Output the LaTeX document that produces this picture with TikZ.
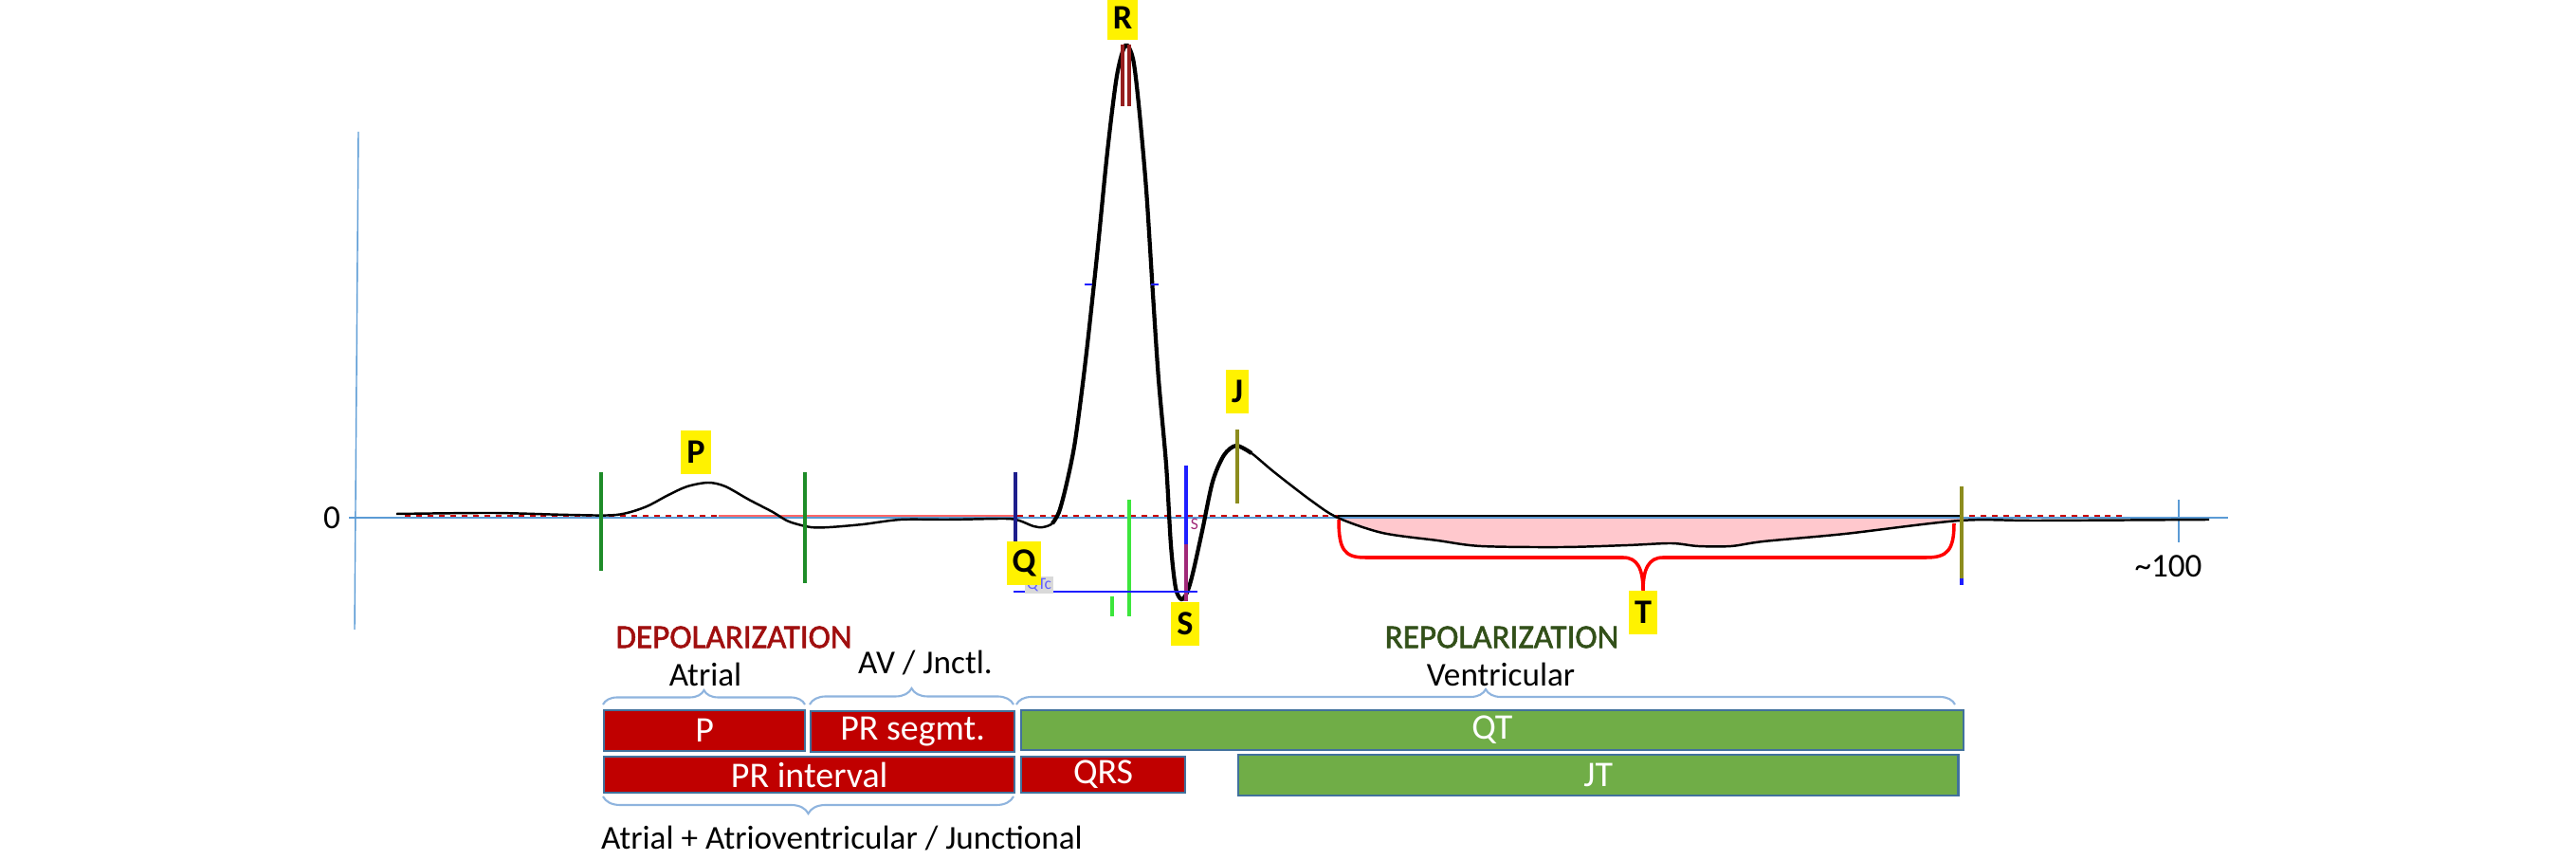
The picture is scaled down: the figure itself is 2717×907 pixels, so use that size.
\documentclass[tikz,border=0pt]{standalone}
\usepackage{fontspec}
\setmainfont{Carlito}
\newfontfamily\headfont[FakeBold=1.6]{Carlito}
\usetikzlibrary{decorations.pathreplacing}

\definecolor{axisblue}{RGB}{91,155,213}
\definecolor{barred}{RGB}{192,0,0}
\definecolor{bargreen}{RGB}{112,173,71}
\definecolor{barline}{RGB}{65,113,156}
\definecolor{bracebl}{RGB}{143,180,222}
\definecolor{pinkfill}{RGB}{255,200,205}
\definecolor{depred}{RGB}{160,15,15}
\definecolor{repgreen}{RGB}{50,80,25}
\definecolor{mkgreen}{RGB}{30,140,40}
\definecolor{mknavy}{RGB}{30,30,140}
\definecolor{mklime}{RGB}{60,230,60}
\definecolor{mkblue}{RGB}{30,30,255}
\definecolor{mkpurple}{RGB}{160,40,120}
\definecolor{mkolive}{RGB}{140,140,30}
\definecolor{mkdark}{RGB}{150,30,30}

\begin{document}
\begin{tikzpicture}[x=0.01cm, y=-0.01cm, font=\fontsize{10}{12}\selectfont,
  wave/.style={black, line width=0.7pt, smooth, tension=0.5},
  marker/.style={line width=0.9pt},
  lbl/.style={fill=yellow, font=\fontsize{10.3}{12}\selectfont\bfseries, inner xsep=0.06cm, inner ysep=0pt, minimum height=0.45cm},
  bar/.style={draw=barline, line width=0.6pt, text=white, anchor=north west, inner sep=0pt, font=\fontsize{10.8}{12}\selectfont},
  redbar/.style={bar, fill=barred},
  greenbar/.style={bar, fill=bargreen},
  phase/.style={font=\fontsize{10}{12}\headfont},
  bluebrace/.style={decorate, decoration={brace, amplitude=#1}, draw=bracebl, line width=0.6pt},
]
\useasboundingbox (0,0) rectangle (2717,907);

% shaded parts of the trace
\fill[pinkfill] (1251,546) -- (1251,630) plot[smooth] coordinates {(1252,625) (1258,605) (1268,560)} -- (1271,546) -- cycle;
\fill[pinkfill] (1411,545) plot[smooth, tension=0.5] coordinates {(1411,546) (1458,562) (1516,570) (1562,576) (1648,577) (1717,575) (1763,573) (1791,576) (1826,576) (1860,571) (1946,563) (2067,549)} -- (2067,545) -- cycle;

% axes
\draw[axisblue, line width=0.4pt] (378,139) -- (374,664);
\draw[axisblue, line width=0.4pt] (368,546) -- (2350,546);
\draw[axisblue, line width=0.4pt] (2298,527) -- (2298,572);
\node (zero) at (350,546) {0};
\node (hundred) at (2287,597) {\textasciitilde100};
\draw[red!80!black, line width=0.4pt, dash pattern=on 1.7pt off 1.7pt] (427,544) -- (2243,544);
\draw[red!60, line width=0.4pt] (758,544) -- (1070,544);
\draw[black, line width=0.4pt] (1411,544) -- (2067,544);

% the trace
\draw[wave] plot coordinates {(418,542) (520,541) (600,543) (650,543) (680,535) (705,522) (725,513) (747,509) (765,513) (790,527) (815,540) (832,550) (855,556) (875,556) (910,553) (950,548) (1000,548) (1060,547) (1075,549) (1090,555) (1100,556) (1110,552) (1117,540)};
\draw[wave, line width=1.2pt] plot coordinates {(1110,552) (1117,540) (1125,510) (1134,465) (1145,380) (1157,270) (1168,160) (1178,80) (1187,48) (1195,62) (1201,110) (1209,200) (1216,310) (1222,400) (1230,490) (1235,575) (1240,620) (1246,632) (1252,625) (1258,605) (1268,560) (1279,508) (1291,480) (1304,470) (1320,478)};
\draw[wave] plot coordinates {(1304,470) (1320,478) (1344,498) (1383,528) (1411,546) (1458,562) (1516,570) (1562,576) (1648,577) (1717,575) (1763,573) (1791,576) (1826,576) (1860,571) (1946,563) (2067,549) (2150,549) (2330,548)};

% markers
\draw[mkgreen, marker] (634,498) -- (634,602);
\draw[mkgreen, marker] (849,498) -- (849,615);
\draw[mknavy, marker] (1071,498) -- (1071,571);
\draw[mklime, marker] (1191,527) -- (1191,650);
\draw[mklime, marker] (1173,629) -- (1173,650);
\draw[mkblue, marker] (1251,491) -- (1251,574);
\draw[mkpurple, marker] (1251,574) -- (1251,634);
\draw[mkolive, marker] (1305,453) -- (1305,531);
\draw[mkdark, marker] (1184,47) -- (1184,112);
\draw[mkdark, marker] (1191,47) -- (1191,112);
\draw[mkolive, marker] (2069,513) -- (2069,610);
\draw[mkblue, marker] (2069,610) -- (2069,617);
\draw[mkblue, line width=0.4pt] (1069,624) -- (1263,624);
\draw[mkblue, line width=0.3pt] (1144,300) -- (1152,300);
\draw[mkblue, line width=0.3pt] (1214,300) -- (1222,300);
\node[fill=gray!30, text=mkblue!70, inner sep=0.5pt, font=\fontsize{5}{6}\selectfont] (qtc) at (1096,617) {QTc};
\node[text=mkpurple, inner sep=0pt, font=\fontsize{5}{6}\selectfont] (smark) at (1260,553) {S};

% wave labels
\node[lbl] (P) at (734,477) {P};
\node[lbl] (Q) at (1080,594) {Q};
\node[lbl] (R) at (1184,19) {R};
\node[lbl] (S) at (1250,658) {S};
\node[lbl] (J) at (1305,413) {J};
\node[lbl] (T) at (1733,646) {T};
\draw[red, line width=1pt] (1412,548) .. controls (1412,580) and (1418,588) .. (1440,588) -- (1712,588) .. controls (1727,588) and (1733,600) .. (T.north) .. controls (1733,600) and (1739,588) .. (1754,588) -- (2032,588) .. controls (2054,588) and (2061,580) .. (2061,552);

% phases
\node[phase, text=depred] (depol) at (774,672) {DEPOLARIZATION};
\node[phase, text=repgreen] (repol) at (1584,672) {REPOLARIZATION};
\node (atrial) at (744,711) {Atrial};
\node (avj) at (976,699) {AV / Jnctl.};
\node (ventr) at (1583,711) {Ventricular};
\draw[bluebrace=0.15cm] (636,743) -- (849,743);
\draw[bluebrace=0.17cm] (854,743) -- (1069,743);
\draw[bluebrace=0.16cm] (1072,743) -- (2062,743);

% bars
\node[redbar, minimum width=2.12cm, minimum height=0.43cm] (pbar) at (636,748) {P};
\node[redbar, minimum width=2.15cm, minimum height=0.43cm] (prseg) at (854,749) {PR segmt.};
\node[greenbar, minimum width=9.93cm, minimum height=0.42cm] (qt) at (1076,748) {QT};
\node[redbar, minimum width=4.33cm, minimum height=0.38cm] (print) at (636,797) {PR interval};
\node[redbar, minimum width=1.73cm, minimum height=0.38cm] (qrs) at (1076,797) {QRS};
\node[greenbar, minimum width=7.59cm, minimum height=0.43cm] (jt) at (1305,795) {JT};
\draw[bluebrace=0.18cm, decoration={mirror}] (636,840) -- (1069,840);
\node (atrav) at (888,884) {Atrial + Atrioventricular / Junctional};
\end{tikzpicture}
\end{document}
